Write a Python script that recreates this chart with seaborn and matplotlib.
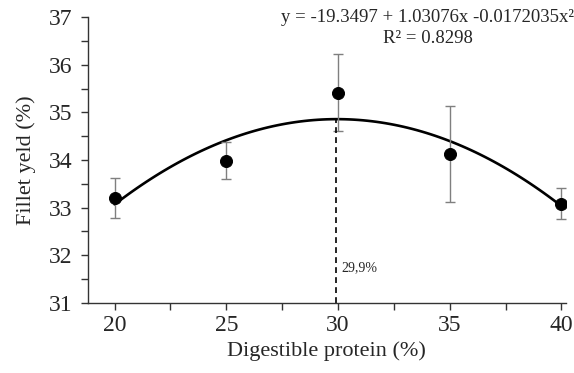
import numpy as np
import pandas as pd
import seaborn as sns
import matplotlib.pyplot as plt
from matplotlib.ticker import MultipleLocator

# Fillet yield vs digestible protein (means and error bar limits)
protein = [20, 25, 30, 35, 40]
fillet = [33.20, 33.97, 35.40, 34.12, 33.08]
err_low = [32.78, 33.60, 34.60, 33.12, 32.76]
err_high = [33.62, 34.37, 36.22, 35.14, 33.42]
optimum = 29.9

df = pd.DataFrame({"protein": protein, "fillet": fillet})

sns.set_style("ticks")
plt.rcParams["font.family"] = ["Liberation Serif", "DejaVu Serif"]

fig = plt.figure(figsize=(5.74, 3.73), dpi=100)
ax = fig.add_axes([0.153, 0.188, 0.833, 0.766])

# quadratic fit line
sns.regplot(data=df, x="protein", y="fillet", order=2, ci=None, scatter=False,
            line_kws={"color": "black", "linewidth": 1.9}, ax=ax)

# error bars
yerr = [np.array(fillet) - np.array(err_low), np.array(err_high) - np.array(fillet)]
ax.errorbar(protein, fillet, yerr=yerr, fmt="none", ecolor="#7f7f7f",
            elinewidth=1.0, capsize=3.5, capthick=1.0, zorder=2)

sns.scatterplot(data=df, x="protein", y="fillet", color="black", s=75,
                edgecolor="black", zorder=3, ax=ax)

# vertical line at optimum
coef = np.polyfit(protein, fillet, 2)
y_opt = np.polyval(coef, optimum)
ax.plot([optimum, optimum], [31, y_opt], color="black", linestyle="--",
        linewidth=1.2, dashes=(3.5, 2.5))
ax.text(optimum + 0.25, 31.73, "29,9%", fontsize=10, ha="left", va="center")

ax.set_xlim(18.8, 40.2)
ax.set_ylim(31, 37)
ax.xaxis.set_major_locator(MultipleLocator(5))
ax.xaxis.set_minor_locator(MultipleLocator(2.5))
ax.yaxis.set_major_locator(MultipleLocator(1))
ax.yaxis.set_minor_locator(MultipleLocator(0.5))
ax.tick_params(which="both", direction="out", length=5, width=1, color="#333333")
ax.tick_params(which="major", labelsize=17)
ax.tick_params(axis="y", which="major", pad=6)
for side in ["left", "bottom"]:
    ax.spines[side].set_color("#333333")
    ax.spines[side].set_linewidth(1.0)
sns.despine(ax=ax)

ax.set_xlabel("Digestible protein (%)", fontsize=16, labelpad=4)
ax.set_ylabel("Fillet yeld (%)", fontsize=16, labelpad=9)

fig.text(0.745, 0.952, "y = -19.3497 + 1.03076x -0.0172035x²", fontsize=13.5,
         ha="center", va="center")
fig.text(0.745, 0.898, "R² = 0.8298", fontsize=13.5, ha="center", va="center")

fig.savefig("out.png", dpi=100)
